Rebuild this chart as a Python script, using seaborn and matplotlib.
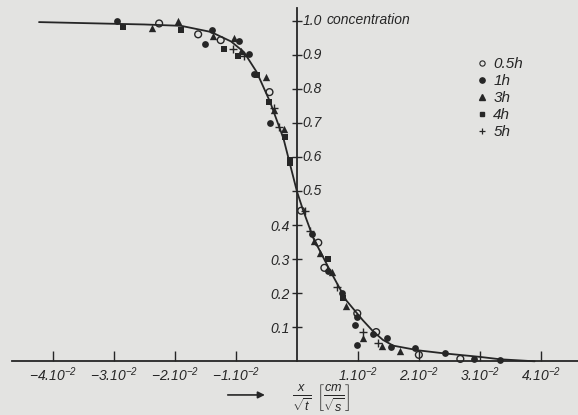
import numpy as np
import pandas as pd
import matplotlib
matplotlib.use("Agg")
import matplotlib.pyplot as plt
import seaborn as sns
from matplotlib.lines import Line2D

# ---- data (x in units of 1e-2 cm/sqrt(s)) ----
curve_x = [-4.23, -3.0, -2.5, -1.9, -1.41, -1.08, -0.87, -0.66, -0.44, -0.22, 0.0,
           0.10, 0.27, 0.54, 0.81, 1.08, 1.25, 1.41, 1.58, 2.0, 2.43, 3.0, 3.33, 3.9]
curve_y = [0.998, 0.993, 0.991, 0.987, 0.969, 0.941, 0.910, 0.851, 0.763, 0.655, 0.50,
           0.445, 0.362, 0.268, 0.179, 0.121, 0.088, 0.063, 0.046, 0.032, 0.023, 0.013, 0.006, 0.0]

h05_x = [-2.26, -1.62, -1.25, -0.45, 0.07, 0.35, 0.45, 0.99, 1.30, 2.00, 2.68]
h05_y = [0.994, 0.962, 0.945, 0.792, 0.443, 0.349, 0.275, 0.141, 0.086, 0.019, 0.007]

h1_x = [-2.95, -1.50, -1.40, -0.95, -0.78, -0.70, -0.44, 0.25, 0.51, 0.74, 0.99, 0.96,
        0.99, 1.25, 1.47, 1.55, 1.93, 2.43, 2.91, 3.33]
h1_y = [1.0, 0.933, 0.975, 0.943, 0.904, 0.845, 0.702, 0.374, 0.266, 0.202, 0.131, 0.107,
        0.048, 0.079, 0.068, 0.043, 0.039, 0.023, 0.008, 0.005]

h3_x = [-2.37, -1.95, -1.37, -1.04, -0.91, -0.51, -0.37, -0.22, 0.28, 0.38, 0.58, 0.81,
        1.09, 1.40, 1.69]
h3_y = [0.982, 1.0, 0.958, 0.951, 0.912, 0.836, 0.740, 0.683, 0.355, 0.318, 0.262, 0.163,
        0.068, 0.046, 0.031]

h4_x = [-2.85, -1.90, -1.20, -0.97, -0.66, -0.45, -0.20, -0.12, -0.11, 0.51, 0.75]
h4_y = [0.984, 0.976, 0.918, 0.898, 0.843, 0.763, 0.659, 0.592, 0.582, 0.300, 0.185]

h5_x = [-1.05, -0.86, -0.29, -0.38, 0.14, 0.22, 0.66, 1.09, 1.33]
h5_y = [0.918, 0.897, 0.688, 0.744, 0.441, 0.383, 0.219, 0.086, 0.055]

series_labels = ["0.5h", "1h", "3h", "4h", "5h"]
x_ticks = [-4, -3, -2, -1, 1, 2, 3, 4]
x_tick_labels = [r"$-4.10^{-2}$", r"$-3.10^{-2}$", r"$-2.10^{-2}$", r"$-1.10^{-2}$",
                 r"$1.10^{-2}$", r"$2.10^{-2}$", r"$3.10^{-2}$", r"$4.10^{-2}$"]
y_left_ticks = [0.1, 0.2, 0.3, 0.4]
y_right_ticks = [0.5, 0.6, 0.7, 0.8, 0.9, 1.0]

# ---- style ----
sns.set_theme(style="white")
BG = "#e3e3e1"
INK = "#262626"
plt.rcParams["font.family"] = ["Liberation Sans", "DejaVu Sans"]
plt.rcParams["font.style"] = "italic"
plt.rcParams["mathtext.fontset"] = "custom"
plt.rcParams["mathtext.rm"] = "Liberation Sans:italic"
plt.rcParams["mathtext.it"] = "Liberation Sans:italic"
plt.rcParams["mathtext.sf"] = "Liberation Sans:italic"
plt.rcParams["text.color"] = INK

fig = plt.figure(figsize=(5.78, 4.15), dpi=100, facecolor=BG)
ax = fig.add_axes([0, 0, 1, 1], facecolor=BG)
ax.set_xlim(-4.87, 4.61)
ax.set_ylim(-0.158, 1.063)

# curve
cdf = pd.DataFrame({"x": curve_x, "y": curve_y})
sns.lineplot(data=cdf, x="x", y="y", sort=False, estimator=None, color=INK, lw=1.3, ax=ax)

# scatter series
kw = dict(color=INK, ax=ax, legend=False, zorder=3)
sns.scatterplot(x=h05_x, y=h05_y, marker="o", s=24, facecolor="none", edgecolor=INK, linewidth=1.0,
                ax=ax, legend=False, zorder=3)
sns.scatterplot(x=h1_x, y=h1_y, marker="o", s=24, edgecolor=INK, linewidth=0, **kw)
sns.scatterplot(x=h3_x, y=h3_y, marker="^", s=28, edgecolor=INK, linewidth=0, **kw)
sns.scatterplot(x=h4_x, y=h4_y, marker="s", s=22, edgecolor=INK, linewidth=0, **kw)
sns.scatterplot(x=h5_x, y=h5_y, marker="+", s=32, linewidth=1.0, **kw)

# legend (manual handles)
handles = [
    Line2D([], [], ls="none", marker="o", ms=3.8, mfc="none", mec=INK, mew=0.8),
    Line2D([], [], ls="none", marker="o", ms=3.8, mfc=INK, mec=INK),
    Line2D([], [], ls="none", marker="^", ms=3.8, mfc=INK, mec=INK),
    Line2D([], [], ls="none", marker="s", ms=3.4, mfc=INK, mec=INK),
    Line2D([], [], ls="none", marker="+", ms=5, mec=INK, mew=0.9),
]
leg = ax.legend(handles, series_labels, loc="upper left", bbox_to_anchor=(0.803, 0.896),
                frameon=False, fontsize=11, handlelength=0.6, handletextpad=0.4,
                labelspacing=0.2, borderpad=0.4)
for t in leg.get_texts():
    t.set_color(INK)

# spines / axes through origin
for s in ["top", "right"]:
    ax.spines[s].set_visible(False)
ax.spines["left"].set_position(("data", 0))
ax.spines["bottom"].set_position(("data", 0))
ax.spines["left"].set_bounds(0, 1.04)
for s in ["left", "bottom"]:
    ax.spines[s].set_color(INK)
    ax.spines[s].set_linewidth(1.3)
ax.spines["bottom"].set_bounds(-4.67, 4.61)

ax.set_xticks(x_ticks)
ax.set_xticklabels(x_tick_labels, fontsize=10)
ax.tick_params(axis="x", bottom=True, direction="in", length=7.5, width=1, color=INK, pad=3,
               labelcolor=INK)

ax.set_yticks(y_left_ticks + y_right_ticks)
ax.set_yticklabels([f"{v:.1f}" for v in y_left_ticks] + [""] * len(y_right_ticks), fontsize=10)
ax.tick_params(axis="y", left=True, direction="inout", length=6.5, width=1, color=INK, pad=2,
               labelcolor=INK)
for v in y_right_ticks:
    ax.annotate(f"{v:.1f}", xy=(0, v), xytext=(4, 0), textcoords="offset points",
                ha="left", va="center", fontsize=10, color=INK)
ax.annotate("concentration", xy=(0, 1.0), xytext=(21, 1), textcoords="offset points",
            ha="left", va="center", fontsize=10, color=INK)

ax.set_xlabel("")
ax.set_ylabel("")

# x-axis label with arrow
ax.annotate("", xy=(-0.48, -0.099), xytext=(-1.18, -0.099),
            arrowprops=dict(arrowstyle="-|>", color=INK, lw=1.2, mutation_scale=10))
ax.text(0.40, -0.108, r"$\frac{x}{\sqrt{t}}\ \left[\frac{cm}{\sqrt{s}}\right]$",
        ha="center", va="center", fontsize=13, color=INK)

fig.savefig("out.png", dpi=100, facecolor=BG)
